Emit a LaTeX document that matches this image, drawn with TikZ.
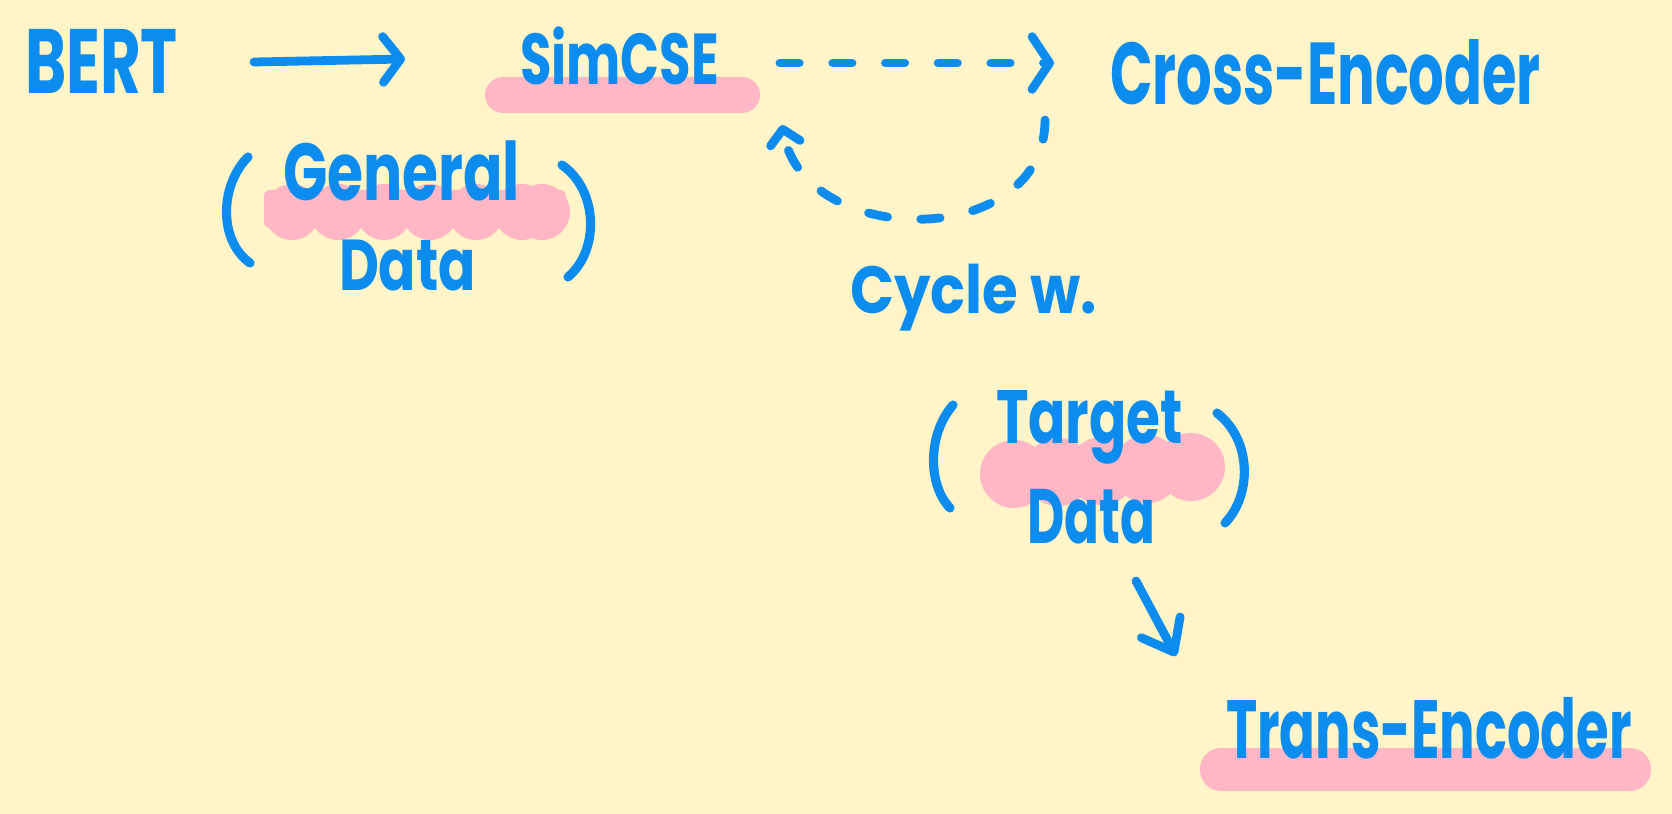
\documentclass[tikz,border=0pt]{standalone}
\usepackage{fontspec}
\usepackage{graphicx}
\newfontfamily\hand{Poppins}
\usetikzlibrary{arrows.meta,calc}
\definecolor{bgc}{RGB}{255,245,200}
\definecolor{blu}{RGB}{12,140,238}
\definecolor{pnk}{RGB}{255,183,197}
\newcommand\fitw[2]{\setbox0=\hbox{#2}\pgfmathsetmacro\fitr{#1*0.569055/\the\wd0}\scalebox{\fitr}[1]{\box0}}
\tikzset{
  txt/.style={text=blu, inner sep=0pt, outer sep=0pt, anchor=base west, font=\hand\bfseries\fontsize{#1}{#1}\selectfont},
  pen/.style={draw=blu, line width=5pt, line cap=round, line join=round},
  arr/.style={pen, -{Straight Barb[length=10pt,width=26pt,round]}},
  dsh/.style={pen, dash pattern=on 11pt off 19pt},
  hl/.style={fill=pnk, draw=none}
}
\begin{document}
\begin{tikzpicture}[x=0.02cm,y=-0.02cm]
\fill[bgc] (0,0) rectangle (1672,814);
\useasboundingbox (0,0) rectangle (1672,814);
% highlights
\fill[hl, rounded corners=18*0.02cm] (485,77) rectangle (760,113);
\fill[hl, rounded corners=21*0.02cm] (1200,748) rectangle (1651,791);
\fill[hl, rounded corners=6*0.02cm] (264,190) rectangle (566,228);
\foreach \cx in {292,338,384,430,476,522,542} \fill[hl] (\cx,212) circle[radius=28*0.02cm];
\foreach \cx/\cy in {1014/474,1058/472,1102/471,1147/469,1191/467} \fill[hl] (\cx,\cy) circle[radius=34*0.02cm];
% texts
\node[txt=52pt] (bert) at (25,94) {\fitw{153}{BERT}};
\node[txt=41pt] (simcse) at (520,85) {\fitw{199}{SimCSE}};
\node[txt=50pt] (cross) at (1110,105) {\fitw{431}{Cross-Encoder}};
\node[txt=38pt] (cycle) at (850,313) {\fitw{247}{Cycle w.}};
\node[txt=46pt] (general) at (283,200) {\fitw{237}{General}};
\node[txt=41pt] (data1) at (339,290) {\fitw{137}{Data}};
\node[txt=43pt] (target) at (996,443) {\fitw{187}{Target}};
\node[txt=44pt] (data2) at (1027,543) {\fitw{128}{Data}};
\node[txt=47pt] (trans) at (1226,758) {\fitw{406}{Trans-Encoder}};
% parentheses
\draw[pen, line width=5.2pt] (248,157) .. controls (220,185) and (218,240) .. (250,263);
\draw[pen, line width=5.2pt] (562,165) .. controls (598,190) and (600,250) .. (568,277);
\draw[pen, line width=5.2pt] (953,405) .. controls (927,435) and (928,485) .. (950,508);
\draw[pen, line width=5.2pt] (1217,413) .. controls (1252,440) and (1252,495) .. (1225,523);
% connectors
\draw[arr] ($(bert.base east)+(76,-32)$) -- ($(simcse.base west)+(-115,-26)$);
\draw[dsh, -{Straight Barb[length=10pt,width=30pt,round]}] ($(simcse.base east)+(61,-22)$) -- ($(cross.base west)+(-56,-42)$);
\draw[dsh, -{Straight Barb[length=8pt,width=17pt,round]}] ($(cross.base west)+(-65,15)$) .. controls (1045,250) and (805,250) .. ($(simcse.base east)+(63,40)$);
\draw[pen, -{Straight Barb[length=16pt,width=25pt,round]}] ($(data2.base west)+(109,38)$) -- ($(trans.base west)+(-50,-102)$);
\end{tikzpicture}
\end{document}
